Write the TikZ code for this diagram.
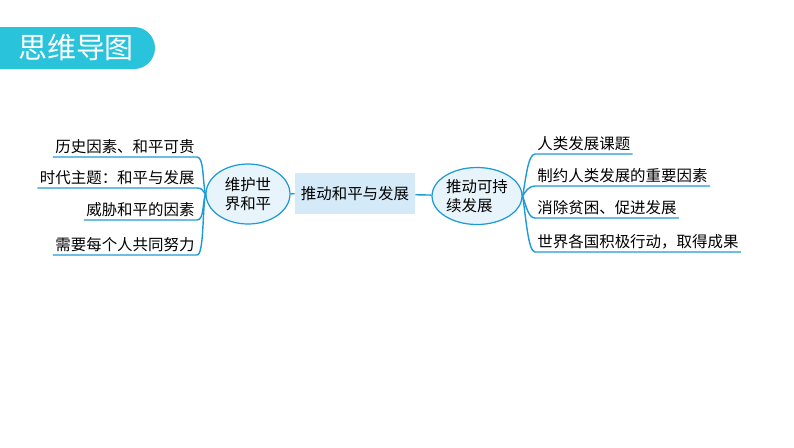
\documentclass[tikz,border=0pt]{standalone}
\usepackage{fontspec}
\usepackage{tikz}
\usetikzlibrary{shapes.geometric}
\newfontfamily\cjk{Noto Sans CJK SC}
\definecolor{mapline}{HTML}{1E9AD6}
\definecolor{bubble}{HTML}{E8F4FB}
\definecolor{corebox}{HTML}{D4EAF8}
\definecolor{banner}{HTML}{29C3DB}

\begin{document}
\begin{tikzpicture}[x=0.02cm,y=-0.02cm,
    every node/.style={font=\cjk\fontsize{8.8}{11}\selectfont},
    bubblenode/.style={ellipse,draw=mapline,fill=bubble,line width=0.7pt,inner sep=0pt},
    leaf/.style={inner xsep=1.2pt,inner ysep=1.5pt},
    branch/.style={draw=mapline,line width=0.8pt}]
    \useasboundingbox (0,0) rectangle (794,447);

    % title banner
    \fill[banner,rounded corners=0.42cm] (-40,27) rectangle (155,69);
    \node[text=white,font=\cjk\fontsize{16.5}{18}\selectfont] (title) at (76,48) {思维导图};

    % centre of the map
    \node[bubblenode,minimum width=1.68cm,minimum height=1.2cm,align=center] (peace) at (248,194) {维护世\\界和平};
    \node[fill=corebox,minimum width=2.4cm,minimum height=0.82cm] (core) at (355,193.5) {推动和平与发展};
    \node[bubblenode,minimum width=1.8cm,minimum height=1.14cm,align=left] (susdev) at (477,196) {推动可持\\续发展};
    \draw[branch] (peace) -- (core);
    \draw[branch] (core) -- (susdev);

    % left branches
    \node[leaf,anchor=south east] (peace1) at (197,157) {历史因素、和平可贵};
    \node[leaf,anchor=south east] (peace2) at (197,188) {时代主题：和平与发展};
    \node[leaf,anchor=south east] (peace3) at (197,220) {威胁和平的因素};
    \node[leaf,anchor=south east] (peace4) at (197,255) {需要每个人共同努力};
    \draw[branch] (peace1.south west) -- (peace1.south east) .. controls +(7,0) and +(-3,-14) .. (peace.west);
    \draw[branch] (peace2.south west) -- (peace2.south east) .. controls +(6,0) and +(-3,-3) .. (peace.west);
    \draw[branch] (peace3.south west) -- (peace3.south east) .. controls +(7,0) and +(-3,10) .. (peace.west);
    \draw[branch] (peace4.south west) -- (peace4.south east) .. controls +(7,0) and +(-3,16) .. (peace.west);

    % right branches
    \node[leaf,anchor=south west] (dev1) at (535,154) {人类发展课题};
    \node[leaf,anchor=south west] (dev2) at (535,186) {制约人类发展的重要因素};
    \node[leaf,anchor=south west] (dev3) at (535,218) {消除贫困、促进发展};
    \node[leaf,anchor=south west] (dev4) at (535,252) {世界各国积极行动，取得成果};
    \draw[branch] (susdev.east) .. controls +(3,-16) and +(-7,0) .. (dev1.south west) -- (dev1.south east);
    \draw[branch] (susdev.east) .. controls +(3,-5) and +(-6,0) .. (dev2.south west) -- (dev2.south east);
    \draw[branch] (susdev.east) .. controls +(3,8) and +(-7,0) .. (dev3.south west) -- (dev3.south east);
    \draw[branch] (susdev.east) .. controls +(3,18) and +(-7,0) .. (dev4.south west) -- (dev4.south east);
\end{tikzpicture}
\end{document}
